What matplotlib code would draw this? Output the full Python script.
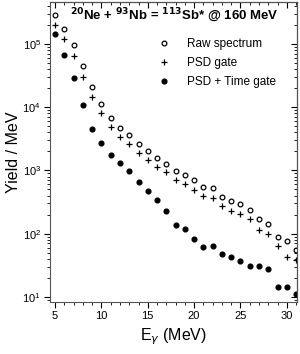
import matplotlib
matplotlib.use("Agg")
import matplotlib.pyplot as plt
from matplotlib.ticker import MultipleLocator, LogLocator, NullFormatter

plt.rcParams["font.family"] = ["Liberation Sans", "DejaVu Sans"]

energy = list(range(5, 32))

raw = [2.86e5, 1.73e5, 9.6e4, 4.48e4, 2.1e4, 1.13e4, 6.85e3, 4.69e3, 3.6e3,
       2.65e3, 2.0e3, 1.59e3, 1.28e3, 975, 834, 693, 550, 523, 386, 330,
       289, 240, 169, 140, 87, 77, 56]
psd = [2.0e5, 1.19e5, 6.45e4, 3.03e4, 1.46e4, 7.94e3, 4.86e3, 3.34e3, 2.59e3,
       1.9e3, 1.46e3, 1.14e3, 929, 714, 600, 482, 393, 367, 270, 229,
       202, 169, 115, 99, 64, 43, 38]
psd_time = [1.42e5, 6.68e4, 2.94e4, 1.1e4, 4.59e3, 2.7e3, 1.73e3, 1.29e3, 982,
            656, 469, 341, 232, 139, 118, 82, 62.6, 63.6, 48.3, 43.1,
            36.6, 31.0, 30.3, 27.6, 14.3, 14.3, 11.3]

labels = ["Raw spectrum", "PSD gate", "PSD + Time gate"]

fig = plt.figure(figsize=(3.0, 3.54), dpi=100)
ax = fig.add_axes([50 / 300, 1 - 302 / 354, 247 / 300, 300 / 354])

ax.plot(energy, raw, 'o', ms=3.4, mfc='none', mec='black', mew=0.9, label=labels[0])
ax.plot(energy, psd, '+', ms=4.5, color='black', mew=0.9, label=labels[1])
ax.plot(energy, psd_time, 'o', ms=3.4, color='black', label=labels[2])

ax.set_yscale('log')
ax.set_xlim(4.45, 31.1)
ax.set_ylim(8.3, 4.6e5)

ax.xaxis.set_major_locator(MultipleLocator(5))
ax.xaxis.set_minor_locator(MultipleLocator(1))
ax.yaxis.set_major_locator(LogLocator(base=10, numticks=10))
ax.yaxis.set_minor_locator(LogLocator(base=10, subs=range(2, 10), numticks=10))
ax.yaxis.set_minor_formatter(NullFormatter())
ax.tick_params(which='major', direction='out', length=4, width=0.8, labelsize=8, pad=2.5)
ax.tick_params(which='minor', direction='out', length=2.5, width=0.6)

# ticks on top and right point inward
top = ax.secondary_xaxis('top')
top.xaxis.set_major_locator(MultipleLocator(5))
top.xaxis.set_minor_locator(MultipleLocator(1))
top.tick_params(which='major', direction='in', length=4, width=0.8, labeltop=False)
top.tick_params(which='minor', direction='in', length=2.5, width=0.6)
right = ax.secondary_yaxis('right')
right.yaxis.set_major_locator(LogLocator(base=10, numticks=10))
right.yaxis.set_minor_locator(LogLocator(base=10, subs=range(2, 10), numticks=10))
right.tick_params(which='major', direction='in', length=4, width=0.8, labelright=False)
right.tick_params(which='minor', direction='in', length=2.5, width=0.6, labelright=False)

for sp in ax.spines.values():
    sp.set_linewidth(0.8)
    sp.set_color('#555555')

ax.set_xlabel(r'E$_\gamma$ (MeV)', fontsize=11.5, labelpad=4)
ax.set_ylabel('Yield / MeV', fontsize=11.5, labelpad=1)

ax.text(0.505, 0.953, r'$^{\mathbf{20}}$Ne + $^{\mathbf{93}}$Nb = $^{\mathbf{113}}$Sb* @ 160 MeV',
        transform=ax.transAxes, ha='center', va='center', fontsize=9.5, fontweight='bold')

ax.legend(loc='upper left', bbox_to_anchor=(0.405, 0.895), frameon=False, fontsize=8.5,
          handletextpad=1.2, labelspacing=0.6, borderaxespad=0, handlelength=1.5)

fig.savefig('out.png', dpi=100)
